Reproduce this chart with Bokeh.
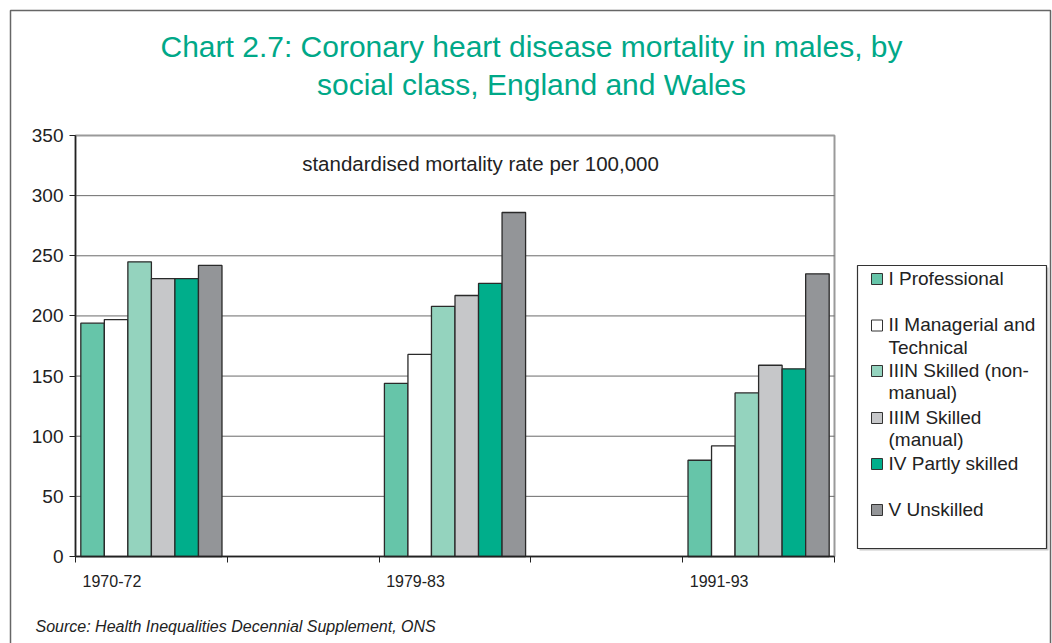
from bokeh.plotting import figure
from bokeh.models import Range1d, FixedTicker, CustomJSTickFormatter
from bokeh.core.properties import value
from bokeh.embed import file_html
from bokeh.resources import INLINE

# ---------------- data ----------------
periods = ["1970-72", "1979-83", "1991-93"]
period_slots = [0, 2, 4]          # slot of each period on a 5-slot category axis
legend_lines = [["I Professional"], ["II Managerial and", "Technical"],
                ["IIIN Skilled  (non-", "manual)"], ["IIIM Skilled", "(manual)"],
                ["IV Partly skilled"], ["V Unskilled"]]
professional = [194, 144, 80]
managerial = [197, 168, 92]
skilled_nonmanual = [245, 208, 136]
skilled_manual = [231, 217, 159]
partly_skilled = [231, 227, 156]
unskilled = [242, 286, 235]
series = [professional, managerial, skilled_nonmanual, skilled_manual, partly_skilled, unskilled]
colors = ["#66C5A9", "#FFFFFF", "#94D3BE", "#C6C7C9", "#00AE8B", "#939598"]
y_ticks = [0, 50, 100, 150, 200, 250, 300, 350]
title_lines = ["Chart 2.7: Coronary heart disease mortality in males, by",
               "social class, England and Wales"]
subtitle = "standardised mortality rate per 100,000"
source = "Source: Health Inequalities Decennial Supplement, ONS"

# ---------------- layout (canvas pixels) ----------------
W, H = 1052, 643
F_L, F_R, F_T, F_B = 75, 834, 135, 556
NX, YMAX = 5, 350
sx = (F_R - F_L) / NX
sy = (F_B - F_T) / YMAX
FONT = "Liberation Sans"

p = figure(width=W, height=H,
           x_range=Range1d(-F_L / sx, (W - F_L) / sx),
           y_range=Range1d(-(H - F_B) / sy, F_B / sy),
           output_backend="svg", toolbar_location=None, min_border=0,
           min_border_left=0, min_border_right=0, min_border_top=0, min_border_bottom=0)
p.extra_x_ranges = {"px": Range1d(0, W)}
p.extra_y_ranges = {"py": Range1d(H, 0)}
p.background_fill_color = "white"
p.border_fill_color = "white"
p.outline_line_color = None
p.xgrid.visible = False
p.ygrid.visible = False

# plot-area frame and gridlines
p.quad(left=0, right=NX, bottom=0, top=YMAX, fill_color=None, line_color="#9a9a9a",
       line_width=2, level="underlay")
p.segment(x0=0, x1=NX, y0=y_ticks[1:-1], y1=y_ticks[1:-1], line_color="#6a6a6a",
          line_width=1, level="underlay")

# bars
bw = 0.155
for k, (vals, col) in enumerate(zip(series, colors)):
    xs = [s + 0.5 + (k - 2.5) * bw for s in period_slots]
    p.vbar(x=xs, top=vals, bottom=0, width=bw, fill_color=col,
           line_color="#2a2a2a", line_width=1.3)

# x axis
label_pos = [s + 0.24 for s in period_slots]
xa = p.xaxis[0]
xa.fixed_location = 0
xa.bounds = (0, NX)
xa.ticker = FixedTicker(ticks=label_pos, minor_ticks=list(range(NX + 1)))
xa.formatter = CustomJSTickFormatter(args=dict(pos=label_pos, names=periods), code="""
    for (let i = 0; i < pos.length; i++) { if (Math.abs(tick - pos[i]) < 1e-6) return names[i]; }
    return "";
""")
xa.major_tick_out = 0
xa.major_tick_in = 0
xa.minor_tick_out = 6
xa.minor_tick_in = 0
xa.minor_tick_line_color = "#222222"
xa.axis_line_color = "#222222"
xa.axis_line_width = 1.5
xa.major_label_standoff = 12
xa.major_label_text_font = FONT
xa.major_label_text_font_size = "16px"
xa.major_label_text_color = "#222222"

# y axis
ya = p.yaxis[0]
ya.fixed_location = 0
ya.bounds = (0, YMAX)
ya.ticker = FixedTicker(ticks=y_ticks)
ya.minor_tick_line_color = None
ya.major_tick_out = 6
ya.major_tick_in = 0
ya.major_tick_line_color = "#222222"
ya.axis_line_color = "#222222"
ya.axis_line_width = 1.5
ya.major_label_standoff = 6
ya.major_label_text_font = FONT
ya.major_label_text_font_size = "19px"
ya.major_label_text_color = "#222222"

def txt(xs, ys, texts, size, color="#222222", align="left", style="normal"):
    p.text(x=xs, y=ys, text=texts, x_range_name="px", y_range_name="py",
           text_font=value(FONT), text_font_size=size, text_color=color,
           text_align=align, text_baseline="middle", text_font_style=style)

# outer border
p.quad(left=10, right=1050, top=10, bottom=H + 20, x_range_name="px", y_range_name="py",
       fill_color=None, line_color="#666666", line_width=1.5)

# titles
txt([531, 531], [46, 84], title_lines, "30px", "#00A888", "center")
txt([480], [163], [subtitle], "20.5px", "#222222", "center")
txt([35], [626], [source], "16px", "#222222", "left", "italic")

# legend
LG_L, LG_R, LG_T, LG_B = 857, 1046, 265, 548
p.quad(left=LG_L + 2, right=LG_R + 2, top=LG_T + 2, bottom=LG_B + 2, x_range_name="px",
       y_range_name="py", fill_color="#c8c8c8", line_color=None)
p.quad(left=LG_L, right=LG_R, top=LG_T, bottom=LG_B, x_range_name="px",
       y_range_name="py", fill_color="white", line_color="#333333", line_width=1.2)
row_y = [277.5, 324, 369.5, 416.5, 462.5, 508.5]
p.quad(left=[871] * 6, right=[882] * 6, top=[y - 4.5 for y in row_y],
       bottom=[y + 6.5 for y in row_y], x_range_name="px", y_range_name="py",
       fill_color=colors, line_color="#333333", line_width=1)
lx, ly, lt = [], [], []
for lines, y in zip(legend_lines, row_y):
    for j, t in enumerate(lines):
        lx.append(888)
        ly.append(y + j * 22.5)
        lt.append(t)
txt(lx, ly, lt, "19px")

open("out.html", "w").write(file_html(p, INLINE))
